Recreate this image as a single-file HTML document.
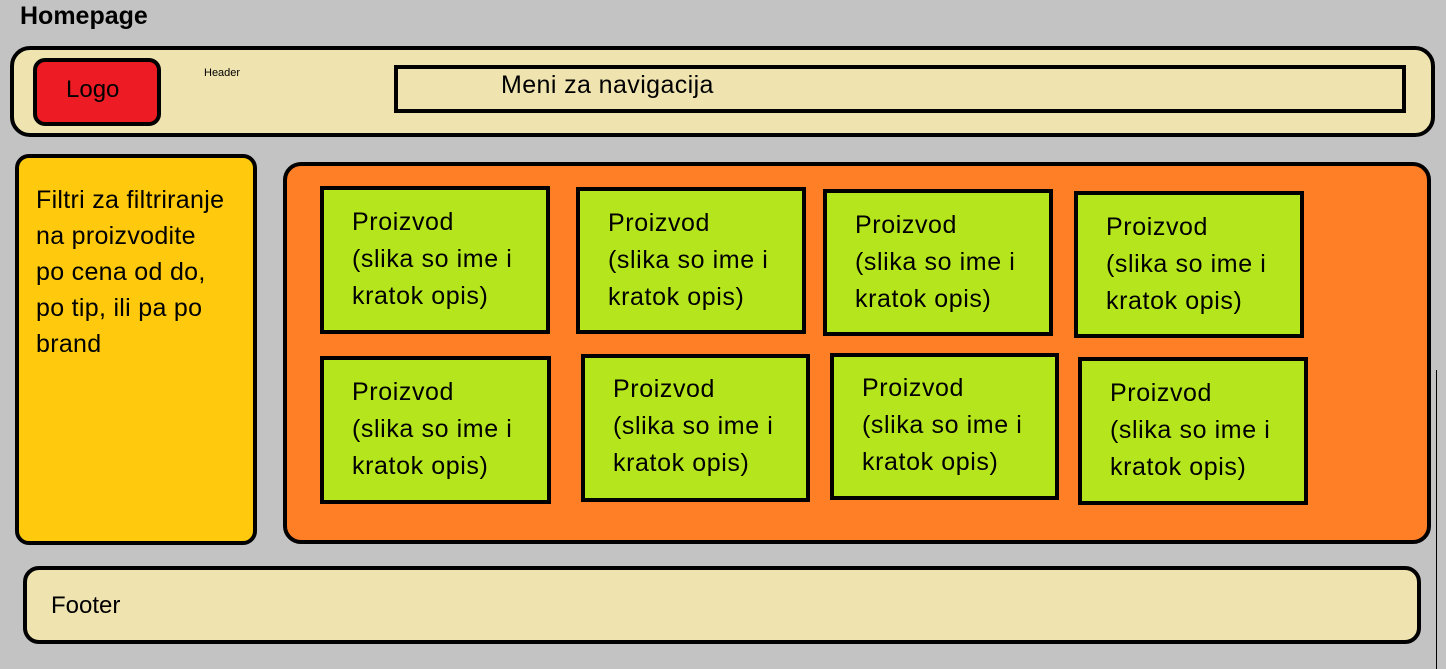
<!DOCTYPE html>
<html><head><meta charset="utf-8"><style>
body{margin:0;width:1446px;height:669px;background:#c3c3c3;position:relative;overflow:hidden;font-family:"Liberation Sans",sans-serif;}
.a{position:absolute;box-sizing:border-box;border:4px solid #000;}
.t{position:absolute;white-space:nowrap;color:#000;}
.p{background:#b5e61d;font-size:25px;letter-spacing:0.6px;line-height:37px;padding:14px 0 0 28px;white-space:nowrap;}
</style></head><body>
<div class="t" style="left:20px;top:2px;font-size:25px;font-weight:bold;">Homepage</div>
<div class="a" style="left:10px;top:46px;width:1425px;height:91px;border-radius:20px;background:#efe4b0;"></div>
<div class="a" style="left:33px;top:58px;width:128px;height:68px;border-radius:12px;background:#ed1c24;"></div>
<div class="t" style="left:66px;top:76px;font-size:24px;">Logo</div>
<div class="t" style="left:204px;top:67px;font-size:11px;">Header</div>
<div class="a" style="left:394px;top:65px;width:1012px;height:48px;"></div>
<div class="t" style="left:501px;top:71px;font-size:25px;letter-spacing:0.4px;">Meni za navigacija</div>
<div class="a" style="left:15px;top:154px;width:242px;height:391px;border-radius:14px;background:#ffc90e;font-size:25px;letter-spacing:0.3px;line-height:36px;padding:24px 0 0 17px;white-space:nowrap;">Filtri za filtriranje<br>na proizvodite<br>po cena od do,<br>po tip, ili pa po<br>brand</div>
<div class="a" style="left:283px;top:162px;width:1148px;height:382px;border-radius:18px;background:#ff7f27;"></div>
<div class="a p" style="left:320px;top:186px;width:230px;height:148px;">Proizvod<br>(slika so ime i<br>kratok opis)</div>
<div class="a p" style="left:576px;top:187px;width:230px;height:147px;">Proizvod<br>(slika so ime i<br>kratok opis)</div>
<div class="a p" style="left:823px;top:189px;width:230px;height:147px;">Proizvod<br>(slika so ime i<br>kratok opis)</div>
<div class="a p" style="left:1074px;top:191px;width:230px;height:147px;">Proizvod<br>(slika so ime i<br>kratok opis)</div>
<div class="a p" style="left:320px;top:356px;width:231px;height:148px;">Proizvod<br>(slika so ime i<br>kratok opis)</div>
<div class="a p" style="left:581px;top:354px;width:229px;height:148px;padding-top:13px;">Proizvod<br>(slika so ime i<br>kratok opis)</div>
<div class="a p" style="left:830px;top:353px;width:229px;height:147px;padding-top:13px;">Proizvod<br>(slika so ime i<br>kratok opis)</div>
<div class="a p" style="left:1078px;top:357px;width:230px;height:148px;">Proizvod<br>(slika so ime i<br>kratok opis)</div>
<div class="a" style="left:23px;top:566px;width:1398px;height:78px;border-radius:16px;background:#efe4b0;"></div>
<div class="t" style="left:51px;top:592px;font-size:24px;">Footer</div>
<div style="position:absolute;left:1436px;top:370px;width:1px;height:299px;background:#000;"></div>
</body></html>
